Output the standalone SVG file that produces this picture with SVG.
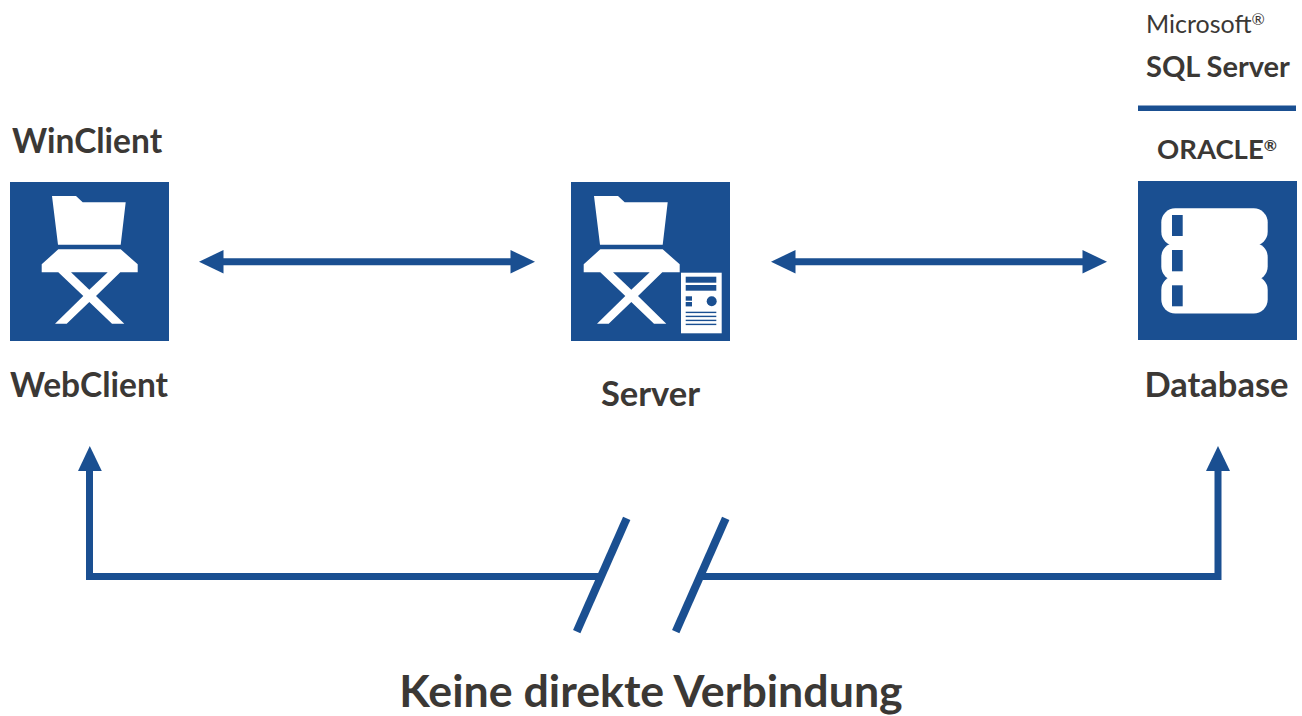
<svg xmlns="http://www.w3.org/2000/svg" width="1302" height="716" viewBox="0 0 1302 716">
<style>
.t{font-family:"Lato","Open Sans",sans-serif;fill:#3b3835;font-weight:700}
.sq{fill:#1a4f91}
.w{fill:#fff}
.b{fill:#1a4f91}
.c{fill:none;stroke:#1a4f91;stroke-width:7}
</style>
<defs>
<g id="chair">
<path class="w" d="M52 196H76L82.700 202.300H125.700L120.700 244.700H58Z"/>
<path class="w" d="M58.300 249.300H120.700L137.700 264.300V272.300H120.300L96 296L124.300 323.700H112L89.300 302L66.700 323.700H55L83.300 296L58.300 272.300H41.700V264.300Z"/>
<path class="b" d="M71 272.300H107.700L89.300 289.700Z"/>
</g>
</defs>
<rect width="1302" height="716" fill="#fff"/>
<g id="connectors">
<path class="c" d="M215 261.700H520"/>
<path class="b" d="M199 261.700L223.500 250V273.500Z"/><path class="b" d="M535 261.700L510.500 250V273.500Z"/>
<path class="c" d="M787 261.700H1092"/>
<path class="b" d="M771 261.700L795.500 250V273.500Z"/><path class="b" d="M1107 261.700L1082.500 250V273.500Z"/>
<path class="c" d="M89.500 465V576.500H600"/>
<path class="b" d="M89.800 446L101.800 471H78Z"/>
<path class="c" d="M703 576.500H1218V465"/>
<path class="b" d="M1218 446L1230 471H1206Z"/>
<path class="c" d="M626.700 518.300L576.700 631.700" style="stroke-width:8"/>
<path class="c" d="M725.700 518.300L675.700 631.700" style="stroke-width:8"/>
</g>
<g id="winclient">
<text class="t" x="12" y="153" font-size="33.500">WinClient</text>
<rect class="sq" x="10" y="182" width="159" height="159"/>
<use href="#chair"/>
<text class="t" x="10" y="397" font-size="33.500">WebClient</text>
</g>
<g id="server">
<rect class="sq" x="571" y="182" width="159" height="159"/>
<use href="#chair" x="542"/>
<rect class="w" x="681" y="272.700" width="40.700" height="60.600"/>
<rect class="b" x="685.700" y="276.700" width="30.600" height="6"/>
<rect class="b" x="685.700" y="285" width="30.600" height="5.700"/>
<rect class="b" x="685.700" y="296.300" width="6.300" height="4.400"/>
<rect class="b" x="685.700" y="302" width="6.300" height="4.400"/>
<circle class="b" cx="711.700" cy="301.300" r="5"/>
<rect class="b" x="685.700" y="311.700" width="30.600" height="1.400"/>
<rect class="b" x="685.700" y="315.700" width="30.600" height="1.400"/>
<rect class="b" x="685.700" y="319.700" width="30.600" height="1.400"/>
<rect class="b" x="685.700" y="323.700" width="30.600" height="1.400"/>
<text class="t" x="650.500" y="406" font-size="34.500" text-anchor="middle">Server</text>
</g>
<g id="database">
<text x="1146" y="33" font-size="25" style="font-family:Lato,'Open Sans',sans-serif;fill:#3b3835">Microsoft<tspan font-size="16" dy="-8">®</tspan></text>
<text class="t" x="1146" y="77" font-size="29">SQL Server</text>
<rect class="b" x="1138" y="105.500" width="158" height="5.500"/>
<text class="t" x="1157" y="159" font-size="27.500">ORACLE<tspan font-size="16" dy="-8">®</tspan></text>
<rect class="sq" x="1138" y="181" width="159" height="159"/>
<rect class="w" x="1161.300" y="208.300" width="106.400" height="37.500" rx="14"/>
<rect class="w" x="1161.300" y="243" width="106.400" height="37.500" rx="14"/>
<rect class="w" x="1161.300" y="276" width="106.400" height="37.500" rx="14"/>
<rect class="b" x="1172" y="215" width="10.700" height="21"/>
<rect class="b" x="1172" y="250" width="10.700" height="21.300"/>
<rect class="b" x="1172" y="285.300" width="10.700" height="21"/>
<text class="t" x="1216.500" y="397" font-size="34.500" text-anchor="middle">Database</text>
</g>
<text class="t" x="651" y="707" font-size="44.700" text-anchor="middle">Keine direkte Verbindung</text>
</svg>
